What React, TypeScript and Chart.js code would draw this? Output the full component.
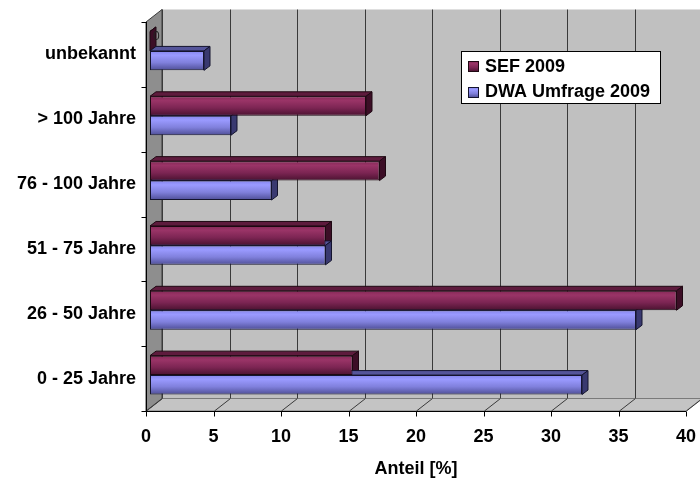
import React, { useEffect, useRef } from 'react';
import { Chart, registerables } from 'chart.js';

Chart.register(...registerables);

// Categories listed top to bottom as in the picture
const categories = ['unbekannt', '> 100 Jahre', '76 - 100 Jahre', '51 - 75 Jahre', '26 - 50 Jahre', '0 - 25 Jahre'];
const sef2009 = [0, 16, 17, 13, 39, 15];
const dwaUmfrage2009 = [4, 6, 9, 13, 36, 32];
const seriesNames = ['SEF 2009', 'DWA Umfrage 2009'];
const xTickValues = [0, 5, 10, 15, 20, 25, 30, 35, 40];
const axisTitle = 'Anteil [%]';

const FONT = "'Liberation Sans', Arial, sans-serif";

// 3D geometry
const DX = 16;
const DY = -12.5;
const SHIFT_X = 4;
const SHIFT_Y = -3.5;
const BDX = 6;
const BDY = -4.5;

const palettes = [
  { stops: [[0, '#842957'], [0.22, '#9a3467'], [0.6, '#7c2553'], [1, '#4a1230']], top: '#5e1b3d', side: '#3c0e26', border: '#1e0812' },
  { stops: [[0, '#8585ec'], [0.22, '#9a9aff'], [0.6, '#8080dc'], [1, '#4e4e96']], top: '#55559a', side: '#393970', border: '#14142e' },
];

function makeGrad(ctx: CanvasRenderingContext2D, y0: number, y1: number, idx: number) {
  const g = ctx.createLinearGradient(0, y0, 0, y1);
  for (const [o, c] of palettes[idx].stops as [number, string][]) g.addColorStop(o, c);
  return g;
}

const scene = {
  id: 'scene3d',
  beforeDraw(chart: any) {
    const { ctx, chartArea: a, scales } = chart;
    const xs = scales.x;
    ctx.save();
    // back wall
    ctx.fillStyle = '#c0c0c0';
    ctx.fillRect(a.left + DX, a.top + DY, a.right - a.left, a.bottom - a.top);
    // back wall gridlines
    ctx.strokeStyle = '#3a3a3a';
    ctx.lineWidth = 1;
    for (const v of xTickValues) {
      const px = Math.round(xs.getPixelForValue(v)) + 0.5 + DX;
      ctx.beginPath();
      ctx.moveTo(px, a.top + DY);
      ctx.lineTo(px, a.bottom + DY);
      ctx.stroke();
    }
    // floor
    ctx.beginPath();
    ctx.moveTo(a.left, a.bottom);
    ctx.lineTo(a.right, a.bottom);
    ctx.lineTo(a.right + DX, a.bottom + DY);
    ctx.lineTo(a.left + DX, a.bottom + DY);
    ctx.closePath();
    ctx.fillStyle = '#c4c4c4';
    ctx.fill();
    ctx.strokeStyle = '#7a7a7a';
    ctx.stroke();
    ctx.strokeStyle = '#3a3a3a';
    for (const v of xTickValues) {
      const px = Math.round(xs.getPixelForValue(v)) + 0.5;
      ctx.beginPath();
      ctx.moveTo(px, a.bottom);
      ctx.lineTo(px + DX, a.bottom + DY);
      ctx.stroke();
    }
    // left wall
    ctx.beginPath();
    ctx.moveTo(a.left, a.top);
    ctx.lineTo(a.left + DX, a.top + DY);
    ctx.lineTo(a.left + DX, a.bottom + DY);
    ctx.lineTo(a.left, a.bottom);
    ctx.closePath();
    ctx.fillStyle = '#8e8e8e';
    ctx.fill();
    ctx.strokeStyle = '#3a3a3a';
    ctx.stroke();
    // axes
    ctx.strokeStyle = '#000';
    ctx.lineWidth = 1;
    const ax = Math.round(a.left) + 0.5;
    const ay = Math.round(a.bottom) + 0.5;
    ctx.beginPath();
    ctx.moveTo(ax, a.top);
    ctx.lineTo(ax, ay);
    ctx.lineTo(a.right, ay);
    ctx.stroke();
    // x tick marks
    for (const v of xTickValues) {
      const px = Math.round(xs.getPixelForValue(v)) + 0.5;
      ctx.beginPath();
      ctx.moveTo(px, ay);
      ctx.lineTo(px, ay + 5);
      ctx.stroke();
    }
    // y tick marks at category boundaries
    const n = categories.length;
    for (let i = 0; i <= n; i++) {
      const py = Math.round(a.top + ((a.bottom - a.top) * i) / n) + 0.5;
      ctx.beginPath();
      ctx.moveTo(ax - 5, py);
      ctx.lineTo(ax, py);
      ctx.stroke();
    }
    ctx.restore();
  },
  beforeDatasetsDraw(chart: any) {
    const { ctx } = chart;
    ctx.save();
    ctx.translate(SHIFT_X, SHIFT_Y);
    chart.data.datasets.forEach((_: any, di: number) => {
      const meta = chart.getDatasetMeta(di);
      meta.data.forEach((el: any) => {
        const { x, y, base, height } = el.getProps(['x', 'y', 'base', 'height'], true);
        const top = y - height / 2;
        const bottom = y + height / 2;
        el.options.backgroundColor = makeGrad(ctx, top, bottom, di);
        const p = palettes[di];
        ctx.lineWidth = 1;
        ctx.strokeStyle = p.border;
        // top face
        ctx.beginPath();
        ctx.moveTo(base, top);
        ctx.lineTo(base + BDX, top + BDY);
        ctx.lineTo(x + BDX, top + BDY);
        ctx.lineTo(x, top);
        ctx.closePath();
        ctx.fillStyle = p.top;
        ctx.fill();
        ctx.stroke();
        // side face
        ctx.beginPath();
        ctx.moveTo(x, top);
        ctx.lineTo(x + BDX, top + BDY);
        ctx.lineTo(x + BDX, bottom + BDY);
        ctx.lineTo(x, bottom);
        ctx.closePath();
        ctx.fillStyle = p.side;
        ctx.fill();
        ctx.stroke();
      });
    });
  },
  afterDatasetsDraw(chart: any) {
    chart.ctx.restore();
  },
  afterDraw(chart: any) {
    const { ctx } = chart;
    ctx.save();
    // zero value labels
    chart.data.datasets.forEach((ds: any, di: number) => {
      const meta = chart.getDatasetMeta(di);
      meta.data.forEach((el: any, i: number) => {
        if (ds.data[i] === 0) {
          ctx.font = `12px ${FONT}`;
          ctx.fillStyle = '#222';
          ctx.textAlign = 'left';
          ctx.textBaseline = 'middle';
          ctx.fillText('0', el.x + SHIFT_X + 3, el.y + SHIFT_Y - 5);
        }
      });
    });
    // legend
    const lx = 461.5, ly = 51.5, lw = 199, lh = 52;
    ctx.fillStyle = '#fff';
    ctx.fillRect(lx, ly, lw, lh);
    ctx.strokeStyle = '#000';
    ctx.lineWidth = 1;
    ctx.strokeRect(lx, ly, lw, lh);
    chart.data.datasets.forEach((ds: any, di: number) => {
      const cy = 66 + di * 25.5;
      const my = Math.round(cy - 5) + 0.5;
      ctx.fillStyle = makeGrad(ctx, my, my + 10, di);
      ctx.fillRect(468.5, my, 10, 10);
      ctx.strokeStyle = palettes[di].border;
      ctx.strokeRect(468.5, my, 10, 10);
      ctx.fillStyle = '#000';
      ctx.font = `bold 18px ${FONT}`;
      ctx.textAlign = 'left';
      ctx.textBaseline = 'middle';
      ctx.fillText(ds.label, 485, cy + 1);
    });
    ctx.restore();
  },
};

export default function App() {
  const ref = useRef<HTMLCanvasElement>(null);
  useEffect(() => {
    const chart = new Chart(ref.current as HTMLCanvasElement, {
      type: 'bar',
      data: {
        labels: categories,
        datasets: [
          { label: seriesNames[0], data: sef2009, backgroundColor: () => '#993366', borderColor: palettes[0].border, borderWidth: 1, borderSkipped: false, clip: false } as any,
          { label: seriesNames[1], data: dwaUmfrage2009, backgroundColor: () => '#9999ff', borderColor: palettes[1].border, borderWidth: 1, borderSkipped: false, clip: false } as any,
        ],
      },
      options: {
        indexAxis: 'y',
        responsive: false,
        animation: false,
        devicePixelRatio: 1,
        events: [],
        categoryPercentage: 0.6,
        barPercentage: 1.0,
        layout: { padding: { top: 22, right: 14, left: 0, bottom: 0 } },
        plugins: { legend: { display: false }, tooltip: { enabled: false }, title: { display: false } },
        scales: {
          x: {
            type: 'linear',
            min: 0,
            max: 40,
            grid: { display: false, drawTicks: false },
            border: { display: false },
            ticks: { stepSize: 5, maxRotation: 0, color: '#000', padding: 15, font: { family: FONT, size: 18, weight: 'bold' } },
            title: { display: true, text: axisTitle, color: '#000', font: { family: FONT, size: 18, weight: 'bold' }, padding: { top: 0, bottom: 2 } },
            afterFit: (s: any) => { s.height = 71; s.paddingLeft = 0; s.paddingRight = 0; },
          },
          y: {
            type: 'category',
            grid: { display: false, drawTicks: false },
            border: { display: false },
            ticks: { color: '#000', padding: 10, font: { family: FONT, size: 18, weight: 'bold' } },
            afterFit: (s: any) => { s.width = 146; s.paddingTop = 0; s.paddingBottom = 0; },
          },
        },
      } as any,
      plugins: [scene],
    });
    return () => chart.destroy();
  }, []);
  return (
    <div style={{ position: 'fixed', left: 0, top: 0, width: 700, height: 482, background: '#fff' }}>
      <canvas ref={ref} width={700} height={482} style={{ display: 'block', width: 700, height: 482 }} />
    </div>
  );
}
